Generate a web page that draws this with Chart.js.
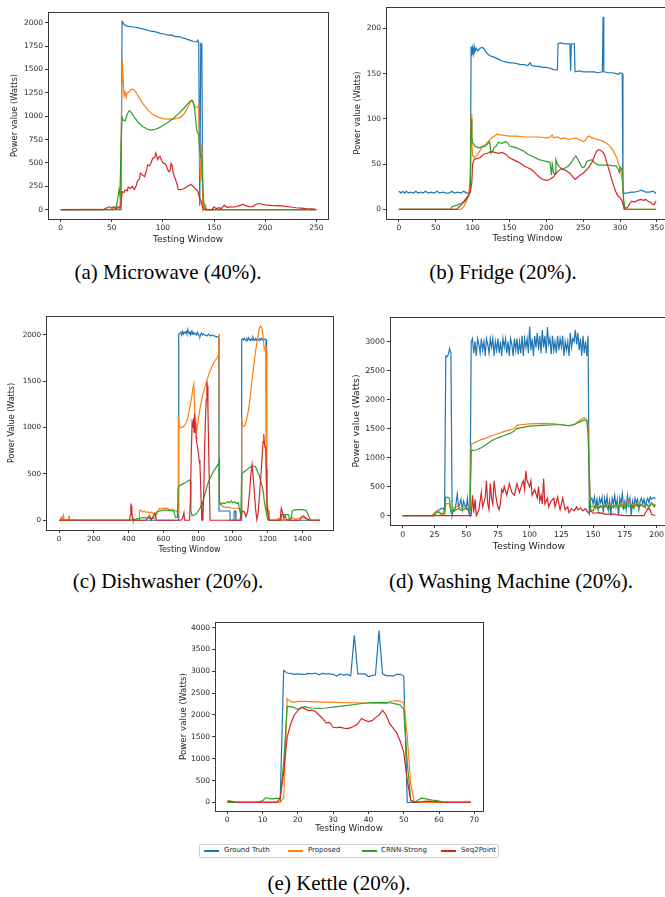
<!DOCTYPE html>
<html>
<head>
<meta charset="utf-8">
<script src="https://cdn.jsdelivr.net/npm/chart.js@4.4.0/dist/chart.umd.min.js"></script>
<style>
  body { margin: 0; background: #fff; }
  #page { position: relative; width: 665px; height: 897px; overflow: hidden; background: #fff; }
  #page canvas { position: absolute; }
  .cap { position: absolute; font-family: "Liberation Serif", "Times New Roman", serif; font-size: 21px; color: #000;
         white-space: nowrap; transform: translate(-50%, -50%); }
  #legend { position: absolute; left: 199px; top: 844px; width: 298px; height: 12px; border: 1px solid #d0d0d0;
            border-radius: 2px; font-family: "DejaVu Sans", sans-serif; font-size: 7px; color: #262626; }
  #legend .ln { position: absolute; top: 5px; width: 15px; height: 2px; }
  #legend .tx { position: absolute; top: 1px; white-space: nowrap; }
</style>
</head>
<body>
<div id="page">
  <div class="cap" style="left:168px;top:272px">(a) Microwave (40%).</div>
  <div class="cap" style="left:503px;top:272px">(b) Fridge (20%).</div>
  <div class="cap" style="left:168px;top:581px">(c) Dishwasher (20%).</div>
  <div class="cap" style="left:511px;top:581px">(d) Washing Machine (20%).</div>
  <div class="cap" style="left:339px;top:883px">(e) Kettle (20%).</div>
  <div id="legend"></div>
</div>
<script>
// series names and colours
const seriesNames = ['Ground Truth', 'Proposed', 'CRNN-Strong', 'Seq2Point'];
const seriesColors = ['#1f77b4', '#ff7f0e', '#2ca02c', '#d62728'];

// (a) microwave
const mwTruth = [[0,0],[59,0],[60,2015],[61,2005],[62,1980],[63,1975],[65,1965],[68,1960],[72,1955],[76,1945],[80,1935],[84,1925],[88,1910],[92,1905],[95,1895],[98,1885],[101,1880],[104,1870],[107,1865],[108,1875],[110,1860],[114,1850],[116,1855],[118,1840],[122,1830],[126,1815],[130,1800],[133,1795],[134,1815],[135,1790],[136,40],[137,1780],[138,1775],[139,0],[250,0]];
const mwProposed = [[0,0],[50,5],[57,10],[58,30],[59,600],[60,1615],[61,1400],[62,1220],[63,1260],[64,1200],[65,1250],[67,1260],[69,1290],[71,1285],[73,1265],[76,1210],[80,1140],[85,1070],[90,1020],[95,990],[100,975],[105,968],[110,968],[115,980],[118,995],[121,1030],[124,1090],[127,1150],[128,1170],[129,1165],[131,1110],[132,1095],[134,1100],[135,1110],[136,480],[137,300],[138,710],[139,0],[141,60],[143,0],[250,0]];
const mwCrnn = [[0,0],[53,0],[55,60],[57,210],[58,150],[59,700],[60,990],[61,960],[63,950],[65,1020],[67,1060],[69,1040],[72,990],[76,930],[80,890],[85,860],[88,852],[92,858],[96,875],[100,900],[105,935],[110,975],[115,1025],[120,1080],[124,1130],[127,1165],[129,1165],[130,1130],[131,1080],[132,960],[133,850],[134,820],[135,815],[136,640],[137,560],[138,560],[139,250],[140,60],[142,0],[250,0]];
const mwSeq = [[0,0],[42,0],[45,20],[48,30],[50,15],[52,30],[54,10],[56,30],[58,20],[59,60],[60,190],[62,185],[63,210],[65,200],[66,240],[68,225],[70,250],[72,215],[74,260],[75,305],[77,330],[78,390],[80,370],[82,355],[84,420],[85,480],[87,470],[88,490],[90,550],[92,560],[93,605],[94,570],[95,535],[96,560],[97,570],[99,520],[100,500],[102,490],[103,480],[105,420],[106,405],[107,420],[108,495],[109,470],[110,390],[112,330],[113,300],[114,260],[115,215],[118,215],[121,225],[124,250],[126,260],[127,270],[129,255],[131,230],[133,210],[134,195],[136,120],[137,100],[139,20],[141,0],[148,0],[150,30],[152,10],[155,20],[157,10],[160,45],[163,25],[166,30],[170,28],[174,40],[178,55],[182,40],[185,28],[188,35],[191,55],[193,65],[196,60],[200,50],[205,45],[210,42],[215,40],[220,35],[225,28],[230,20],[235,15],[240,10],[245,8],[249,5]];
const mwXTicks = [0, 50, 100, 150, 200, 250];
const mwYTicks = [0, 250, 500, 750, 1000, 1250, 1500, 1750, 2000];

// (b) fridge
const frTruth = [[0,20],[3,18],[5,20],[8,18],[10,20],[13,18],[16,19],[20,18],[23,20],[26,18],[30,19],[33,18],[36,20],[40,18],[44,19],[48,18],[52,20],[55,18],[60,19],[64,18],[68,18],[72,20],[75,18],[80,19],[84,18],[88,20],[92,18],[96,18],[97,19],[98,180],[99,170],[100,178],[101,172],[102,180],[103,174],[105,178],[107,175],[110,178],[113,179],[115,178],[118,174],[120,172],[123,170],[126,169],[130,168],[135,166],[140,164],[145,163],[150,162],[155,162],[160,161],[165,160],[170,160],[175,159],[178,162],[180,159],[185,158],[190,158],[195,157],[200,157],[205,156],[208,155],[212,154],[215,154],[216,183],[220,184],[225,183],[232,183],[233,153],[234,183],[238,183],[239,152],[245,153],[250,152],[255,152],[260,152],[265,152],[270,151],[276,152],[277,213],[278,152],[285,151],[290,151],[295,150],[298,149],[300,151],[303,150],[304,18],[310,18],[315,19],[320,19],[325,20],[328,21],[330,21],[335,19],[340,19],[345,20],[348,18],[349,18]];
const frProposed = [[0,0],[84,0],[88,3],[92,10],[95,18],[97,40],[98,105],[99,75],[100,60],[102,57],[106,60],[110,65],[114,70],[118,72],[122,76],[126,79],[130,81],[133,83],[140,82],[150,81],[160,81],[170,80],[180,80],[190,80],[200,79],[205,80],[208,82],[210,79],[215,80],[220,78],[225,79],[230,77],[235,78],[240,79],[245,77],[250,75],[253,76],[256,80],[258,81],[262,79],[266,78],[270,77],[275,76],[280,74],[285,71],[290,66],[295,58],[300,46],[303,33],[304,30],[305,0],[349,0]];
const frCrnn = [[0,0],[70,0],[72,3],[80,5],[85,7],[90,9],[95,15],[97,22],[98,100],[99,80],[100,74],[103,70],[108,68],[113,69],[118,70],[121,73],[123,75],[125,62],[127,64],[129,68],[132,70],[135,74],[140,73],[145,75],[148,73],[150,70],[155,69],[160,68],[165,66],[170,64],[175,61],[180,59],[185,57],[190,55],[195,54],[200,53],[205,52],[207,38],[208,50],[210,40],[212,39],[213,55],[215,50],[218,47],[222,44],[226,46],[230,48],[234,52],[237,56],[240,59],[243,55],[246,50],[249,46],[252,47],[255,53],[258,54],[262,55],[265,52],[268,50],[272,49],[280,49],[285,49],[290,48],[295,48],[297,45],[299,41],[300,47],[302,45],[303,42],[305,10],[307,0],[349,0]];
const frSeq = [[0,0],[78,0],[82,3],[86,6],[90,11],[94,15],[97,20],[99,30],[100,50],[102,55],[105,56],[110,57],[115,61],[120,62],[125,64],[130,63],[135,62],[140,63],[145,61],[150,57],[155,55],[160,53],[165,51],[170,48],[175,46],[180,44],[185,40],[190,36],[195,33],[200,32],[205,33],[208,35],[210,36],[213,40],[216,42],[220,45],[224,44],[228,42],[232,40],[236,36],[239,33],[242,35],[246,38],[250,40],[255,44],[258,47],[262,52],[265,58],[268,64],[271,66],[274,65],[277,63],[279,60],[282,52],[285,44],[288,35],[291,27],[294,20],[297,15],[300,13],[303,9],[305,3],[307,1],[310,2],[313,6],[316,9],[320,8],[324,10],[328,11],[332,10],[335,11],[338,9],[341,8],[344,6],[346,5],[348,8],[349,9]];
const frXTicks = [0, 50, 100, 150, 200, 250, 300, 350];
const frYTicks = [0, 50, 100, 150, 200];

// (c) dishwasher
const dwTruth = [[0,0],[685,0],[688,2010],[695,2020],[700,2030],[705,2000],[710,2040],[715,2010],[720,2030],[725,2020],[730,2040],[735,2010],[740,2060],[745,2020],[750,2030],[755,2000],[760,2040],[765,2010],[770,2030],[775,2010],[780,2020],[790,2000],[795,2030],[800,2010],[805,1990],[810,1980],[815,2010],[820,2020],[825,2000],[830,2010],[840,2000],[850,1990],[860,2010],[870,1990],[880,2000],[890,1990],[900,1985],[910,1980],[918,1970],[920,100],[982,100],[984,0],[1005,0],[1007,100],[1015,100],[1017,0],[1048,0],[1050,1950],[1055,1960],[1060,1945],[1065,1965],[1070,1950],[1075,1940],[1080,1960],[1085,1945],[1090,1970],[1095,1950],[1100,1940],[1105,1960],[1110,1945],[1115,1975],[1120,1950],[1125,1940],[1130,1960],[1135,1945],[1140,1965],[1145,1950],[1150,1940],[1155,1960],[1160,1950],[1165,1965],[1170,1945],[1175,1960],[1180,1950],[1185,1955],[1190,1945],[1192,1950],[1194,100],[1205,100],[1207,0],[1500,0]];
const dwProposed = [[0,0],[10,0],[12,40],[14,0],[20,10],[25,50],[27,0],[40,10],[55,0],[58,50],[60,0],[80,5],[100,0],[460,0],[462,100],[470,110],[480,90],[490,100],[500,85],[510,90],[520,80],[530,90],[540,70],[550,80],[560,60],[570,110],[580,130],[590,120],[600,130],[610,125],[620,130],[630,120],[640,110],[650,115],[660,110],[670,100],[680,90],[684,80],[686,1110],[690,1020],[700,1000],[710,1005],[720,1020],[730,1050],[740,1100],[750,1200],[760,1300],[770,1420],[775,1470],[778,1300],[782,1100],[786,980],[790,950],[795,1000],[800,1080],[810,1200],[820,1300],[830,1380],[840,1450],[850,1510],[860,1570],[870,1620],[880,1660],[890,1700],[900,1730],[910,1760],[918,1790],[920,2010],[922,200],[930,180],[940,150],[960,140],[980,140],[990,130],[1000,130],[1020,130],[1040,120],[1048,100],[1050,1110],[1055,1020],[1060,1010],[1070,1030],[1080,1100],[1090,1200],[1100,1350],[1110,1520],[1120,1680],[1130,1830],[1140,1950],[1150,2060],[1158,2100],[1165,2080],[1172,2000],[1178,1880],[1185,1820],[1190,1800],[1193,1870],[1195,100],[1200,120],[1210,0],[1250,0],[1260,20],[1280,0],[1320,10],[1340,30],[1360,10],[1400,30],[1420,20],[1440,0],[1500,0]];
const dwCrnn = [[0,0],[400,0],[420,5],[460,20],[480,30],[500,25],[540,20],[555,30],[560,90],[570,95],[580,100],[600,110],[620,110],[640,105],[660,100],[665,60],[670,30],[680,30],[685,350],[690,370],[700,380],[710,390],[720,400],[730,410],[740,425],[750,435],[755,420],[758,100],[765,50],[780,60],[790,70],[800,100],[810,130],[820,170],[830,220],[840,290],[850,360],[860,420],[870,460],[880,500],[890,530],[900,560],[910,590],[915,610],[918,640],[920,650],[922,200],[930,170],[940,190],[950,180],[960,190],[970,200],[980,190],[990,210],[1000,190],[1010,200],[1020,180],[1030,190],[1040,100],[1045,50],[1050,500],[1060,520],[1070,530],[1080,545],[1090,560],[1100,575],[1110,585],[1120,585],[1130,575],[1140,530],[1150,490],[1160,420],[1170,350],[1175,300],[1180,200],[1185,150],[1190,100],[1198,20],[1205,0],[1275,0],[1280,60],[1320,60],[1325,0],[1335,20],[1340,100],[1350,110],[1380,115],[1400,115],[1420,105],[1435,50],[1445,0],[1500,0]];
const dwSeq = [[0,0],[405,0],[410,60],[413,180],[416,100],[418,160],[421,30],[425,0],[500,0],[510,30],[520,50],[530,0],[540,40],[550,70],[560,0],[700,0],[710,20],[718,80],[722,0],[750,0],[755,200],[760,700],[765,1050],[770,1000],[773,1100],[776,950],[779,1150],[782,1000],[785,1050],[788,900],[791,850],[795,800],[800,750],[805,650],[810,600],[813,450],[817,200],[821,0],[827,0],[832,300],[837,800],[842,1100],[846,1300],[850,1500],[853,1450],[856,1200],[860,800],[864,400],[868,0],[1040,0],[1045,50],[1055,100],[1065,90],[1075,40],[1085,100],[1095,300],[1103,500],[1110,600],[1117,450],[1123,300],[1130,120],[1137,10],[1143,60],[1150,200],[1157,400],[1163,550],[1168,700],[1173,850],[1177,930],[1181,820],[1185,780],[1188,800],[1191,550],[1195,250],[1200,80],[1208,0],[1270,0],[1278,130],[1285,80],[1292,20],[1300,50],[1310,0],[1385,0],[1395,40],[1405,50],[1415,30],[1425,15],[1440,0],[1500,0]];
const dwXTicks = [0, 200, 400, 600, 800, 1000, 1200, 1400];
const dwYTicks = [0, 500, 1000, 1500, 2000];

// (d) washing machine
const wmTruth = [[0,0],[25,0],[27,80],[29,100],[30,120],[32,130],[33,50],[34,2750],[35,2740],[36,2780],[37,2880],[38,2800],[39,0],[40,100],[41,80],[42,200],[43,370],[44,150],[45,200],[46,280],[47,100],[48,250],[49,180],[50,120],[51,300],[52,50],[53,0],[54,3000],
  [55,3050],[56,2800],[57,3000],[58,2750],[59,3050],[60,2950],[61,2800],[62,3050],[63,2850],[64,3000],[65,2750],[66,3050],[67,2950],[68,2800],[69,3050],[70,2900],[71,3050],[72,2750],[73,3000],[74,2850],[75,3050],[76,2800],[77,3000],[78,2750],[79,3050],[80,2900],[81,3050],[82,2800],[83,3000],[84,2750],[85,3050],[86,2950],[87,2750],[88,3050],[89,2850],[90,3050],[91,2780],[92,3000],[93,2800],[94,3100],[95,2750],[96,3050],[97,2900],[98,3050],[99,2800],[100,3260],[101,2850],[102,3050],[103,2750],[104,3100],[105,2900],[106,3150],[107,2850],[108,3100],[109,2800],[110,3200],[111,2900],[112,3100],[113,2800],[114,3250],[115,2950],[116,3050],[117,2780],[118,3100],[119,2850],[120,3000],[121,2800],[122,3100],[123,2850],[124,3050],[125,2900],[126,3100],[127,2750],[128,3000],[129,2850],[130,3000],[131,2750],[132,3150],[133,2900],[134,3050],[135,3000],[136,3200],[137,2950],[138,3150],[139,2850],[140,3050],[141,2750],[142,3100],[143,2800],[144,3000],[145,2750],[146,3100],[147,0],
  [148,280],[149,300],[150,200],[151,320],[152,150],[153,280],[154,100],[155,300],[156,220],[157,320],[158,50],[159,300],[160,180],[161,330],[162,100],[163,250],[164,0],[165,300],[166,200],[167,350],[168,150],[169,280],[170,0],[171,300],[172,200],[173,380],[174,150],[175,250],[176,100],[177,350],[178,200],[179,300],[180,0],[181,250],[182,150],[183,300],[184,220],[185,280],[186,100],[187,250],[188,300],[189,200],[190,280],[191,150],[192,250],[193,300],[194,220],[195,320],[196,280],[197,300],[198,310],[199,290]];
const wmProposed = [[0,0],[23,0],[25,50],[27,85],[29,60],[31,10],[33,20],[34,200],[36,210],[37,190],[38,100],[40,140],[43,160],[46,130],[49,150],[52,110],[53,100],[54,1230],[58,1270],[62,1310],[66,1340],[70,1375],[75,1410],[80,1450],[85,1480],[88,1500],[90,1560],[95,1570],[100,1580],[105,1585],[110,1590],[115,1585],[120,1580],[125,1565],[130,1550],[133,1555],[136,1580],[140,1650],[143,1690],[145,1660],[146,1550],[147,800],[148,150],[150,160],[152,120],[154,170],[156,140],[158,190],[160,150],[162,200],[164,170],[166,130],[168,190],[170,200],[172,160],[174,210],[176,180],[178,250],[180,170],[182,200],[184,160],[186,210],[188,180],[190,150],[192,200],[194,170],[196,210],[198,180],[199,190]];
const wmCrnn = [[0,0],[24,0],[26,40],[28,60],[30,30],[33,50],[34,320],[36,310],[37,290],[38,50],[40,80],[42,100],[44,120],[46,90],[48,100],[50,130],[52,80],[53,90],[54,1120],[58,1130],[62,1170],[66,1230],[70,1290],[75,1340],[80,1380],[85,1420],[88,1460],[90,1500],[95,1520],[100,1540],[110,1555],[120,1565],[125,1565],[130,1550],[135,1565],[140,1620],[143,1650],[145,1630],[146,1400],[147,600],[148,100],[150,80],[152,200],[154,110],[156,170],[158,120],[160,190],[162,100],[164,180],[166,140],[168,200],[170,130],[172,190],[174,110],[176,200],[178,150],[180,190],[182,120],[184,210],[186,130],[188,190],[190,150],[192,200],[194,130],[196,220],[198,150],[199,190]];
const wmSeq = [[0,0],[54,0],[55,350],[56,50],[57,280],[58,0],[60,100],[62,400],[63,150],[65,300],[66,600],[67,200],[68,100],[69,550],[70,300],[71,200],[72,600],[73,400],[74,250],[75,150],[76,100],[77,200],[78,450],[79,400],[80,500],[82,350],[84,550],[86,400],[88,350],[90,550],[92,400],[94,550],[95,600],[96,450],[97,770],[98,600],[100,500],[101,600],[102,350],[104,450],[106,300],[107,500],[108,250],[109,350],[110,200],[111,640],[112,200],[114,300],[115,150],[117,250],[119,300],[120,150],[122,320],[124,100],[126,300],[128,100],[130,150],[131,50],[133,120],[135,80],[137,150],[138,100],[140,130],[142,80],[144,120],[146,50],[148,80],[150,40],[155,50],[160,20],[165,30],[170,10],[175,0],[190,0],[193,120],[195,100],[196,20],[199,0]];
const wmXTicks = [0, 25, 50, 75, 100, 125, 150, 175, 200];
const wmYTicks = [0, 500, 1000, 1500, 2000, 2500, 3000];

// (e) kettle
const ktTruth = [[0,0],[15,0],[16,3020],[17,2960],[18,2950],[19,2930],[20,2940],[21,2930],[22,2930],[23,2950],[24,2940],[25,2960],[26,2920],[27,2950],[28,2940],[29,2940],[30,2930],[31,2890],[32,2940],[33,2910],[34,2930],[35,2900],[36,3820],[37,2940],[38,2940],[39,2940],[40,2880],[41,2900],[42,2920],[43,3930],[44,2940],[45,2900],[46,2900],[47,2890],[48,2930],[49,2930],[50,2890],[51,0],[69,0]];
const ktProposed = [[0,30],[1,25],[2,10],[3,0],[15,0],[16,100],[17,2370],[18,2310],[19,2290],[20,2310],[22,2310],[25,2300],[30,2290],[35,2280],[40,2270],[44,2270],[45,2260],[46,2300],[47,2320],[48,2330],[49,2320],[50,2270],[51,1500],[52,400],[53,20],[54,0],[69,0]];
const ktCrnn = [[0,0],[9,10],[10,40],[11,110],[12,85],[13,80],[14,100],[15,80],[16,900],[17,2190],[18,2190],[19,2170],[20,2130],[21,2170],[22,2190],[23,2170],[24,2160],[26,2150],[28,2160],[30,2180],[33,2210],[36,2240],[40,2280],[44,2290],[46,2280],[48,2250],[49,2230],[50,2130],[51,900],[52,50],[53,0],[54,50],[55,100],[56,85],[57,70],[58,55],[59,45],[60,30],[61,10],[62,0],[69,0]];
const ktSeq = [[0,30],[1,30],[2,15],[3,5],[4,0],[14,0],[15,100],[16,700],[17,1500],[18,1800],[19,2000],[20,2100],[21,2170],[22,2140],[23,2100],[24,2110],[25,2080],[26,2000],[27,1920],[28,1820],[29,1830],[30,1720],[31,1710],[32,1720],[33,1700],[34,1690],[35,1710],[36,1750],[37,1800],[38,1920],[39,1880],[40,1850],[41,1870],[42,1940],[43,2000],[44,2110],[45,2000],[46,1800],[47,1700],[48,1590],[49,1400],[50,1150],[51,500],[52,50],[53,10],[54,0],[55,20],[57,30],[59,20],[61,10],[63,0],[69,0]];
const ktXTicks = [0, 10, 20, 30, 40, 50, 60, 70];
const ktYTicks = [0, 500, 1000, 1500, 2000, 2500, 3000, 3500, 4000];

// draws the box around the plot, like matplotlib spines
const framePlugin = {
  id: 'frame',
  afterDatasetsDraw(chart) {
    const a = chart.chartArea, ctx = chart.ctx;
    ctx.save();
    ctx.strokeStyle = '#3a3a3a';
    ctx.lineWidth = 1;
    ctx.strokeRect(Math.round(a.left) + 0.5, Math.round(a.top) + 0.5,
      Math.round(a.right - a.left), Math.round(a.bottom - a.top));
    ctx.restore();
  }
};

/*
  area = [left, top, right, bottom] of the plot box on the page
*/
function makePanel(p) {
  const yLh = p.yFont * 1.2, xLh = p.xFont * 1.2;
  const padTop = 8, padRight = 2;
  const left = Math.round(p.yTitleX - yLh / 2 - 1);
  const yW = p.area[0] - left;
  const xH = Math.round(p.xTitleY + xLh / 2 + 1) - p.area[3];
  const cv = document.createElement('canvas');
  cv.width = yW + (p.area[2] - p.area[0]) + padRight;
  cv.height = padTop + (p.area[3] - p.area[1]) + xH;
  cv.style.left = left + 'px';
  cv.style.top = (p.area[1] - padTop) + 'px';
  document.getElementById('page').appendChild(cv);

  const datasets = p.series.map((s, i) => ({
    label: seriesNames[i],
    data: s,
    borderColor: seriesColors[i],
    backgroundColor: seriesColors[i],
    borderWidth: 1.2,
    pointRadius: 0,
    tension: 0,
    order: 4 - i
  }));
  const tickFont = { family: 'DejaVu Sans', size: p.tickFont };
  const gridOpts = { display: true, drawOnChartArea: false, drawTicks: true, tickLength: 3, color: '#3a3a3a' };

  new Chart(cv, {
    type: 'line',
    data: { datasets: datasets },
    options: {
      responsive: false,
      animation: false,
      events: [],
      layout: { padding: { top: padTop, right: padRight, left: 0, bottom: 0 } },
      plugins: { legend: { display: false }, tooltip: { enabled: false } },
      scales: {
        x: {
          type: 'linear',
          min: p.xRange[0], max: p.xRange[1],
          afterBuildTicks: s => { s.ticks = p.xTicks.map(v => ({ value: v })); },
          afterFit: s => { s.height = xH; },
          grid: gridOpts,
          border: { display: false },
          ticks: { font: tickFont, color: '#262626', padding: 2, autoSkip: false, maxRotation: 0, callback: v => String(v) },
          title: { display: true, text: 'Testing Window', color: '#262626',
                   font: { family: 'DejaVu Sans', size: p.xFont }, padding: { top: 0, bottom: 1 } }
        },
        y: {
          type: 'linear',
          min: p.yRange[0], max: p.yRange[1],
          afterBuildTicks: s => { s.ticks = p.yTicks.map(v => ({ value: v })); },
          afterFit: s => { s.width = yW; },
          grid: gridOpts,
          border: { display: false },
          ticks: { font: tickFont, color: '#262626', padding: 2, callback: v => String(v) },
          title: { display: true, text: p.yTitle, color: '#262626',
                   font: { family: 'DejaVu Sans', size: p.yFont }, padding: { top: 1, bottom: 0 } }
        }
      }
    },
    plugins: [framePlugin]
  });
}

makePanel({ area: [48, 12, 328, 219], xRange: [-12.45, 261.45], yRange: [-100.75, 2115.75],
  xTicks: mwXTicks, yTicks: mwYTicks, series: [mwTruth, mwProposed, mwCrnn, mwSeq],
  yTitle: 'Power value (Watts)', yTitleX: 15, xTitleY: 240, tickFont: 7.5, xFont: 9, yFont: 8.3 });
makePanel({ area: [386, 7, 669, 219], xRange: [-17.45, 366.45], yRange: [-10.65, 223.65],
  xTicks: frXTicks, yTicks: frYTicks, series: [frTruth, frProposed, frCrnn, frSeq],
  yTitle: 'Power value (Watts)', yTitleX: 358, xTitleY: 239, tickFont: 7.5, xFont: 9, yFont: 8.3 });
makePanel({ area: [46, 316, 333, 530], xRange: [-75, 1575], yRange: [-105, 2205],
  xTicks: dwXTicks, yTicks: dwYTicks, series: [dwTruth, dwProposed, dwCrnn, dwSeq],
  yTitle: 'Power Value (Watts)', yTitleX: 12, xTitleY: 550, tickFont: 7.2, xFont: 8, yFont: 8 });
makePanel({ area: [390, 317, 668, 525], xRange: [-9.95, 208.95], yRange: [-163, 3423],
  xTicks: wmXTicks, yTicks: wmYTicks, series: [wmTruth, wmProposed, wmCrnn, wmSeq],
  yTitle: 'Power value (Watts)', yTitleX: 357, xTitleY: 546, tickFont: 7.8, xFont: 9.3, yFont: 9.3 });
makePanel({ area: [215, 622, 483, 811], xRange: [-3.45, 72.45], yRange: [-196, 4127],
  xTicks: ktXTicks, yTicks: ktYTicks, series: [ktTruth, ktProposed, ktCrnn, ktSeq],
  yTitle: 'Power value (Watts)', yTitleX: 184, xTitleY: 829, tickFont: 7.5, xFont: 8.7, yFont: 8.7 });

// legend under the kettle panel
const legendPos = [[4, 24], [88, 108], [162, 181], [241, 261]];
const legend = document.getElementById('legend');
seriesNames.forEach((name, i) => {
  const ln = document.createElement('div');
  ln.className = 'ln';
  ln.style.left = legendPos[i][0] + 'px';
  ln.style.backgroundColor = seriesColors[i];
  legend.appendChild(ln);
  const tx = document.createElement('span');
  tx.className = 'tx';
  tx.style.left = legendPos[i][1] + 'px';
  tx.textContent = name;
  legend.appendChild(tx);
});
</script>
</body>
</html>
